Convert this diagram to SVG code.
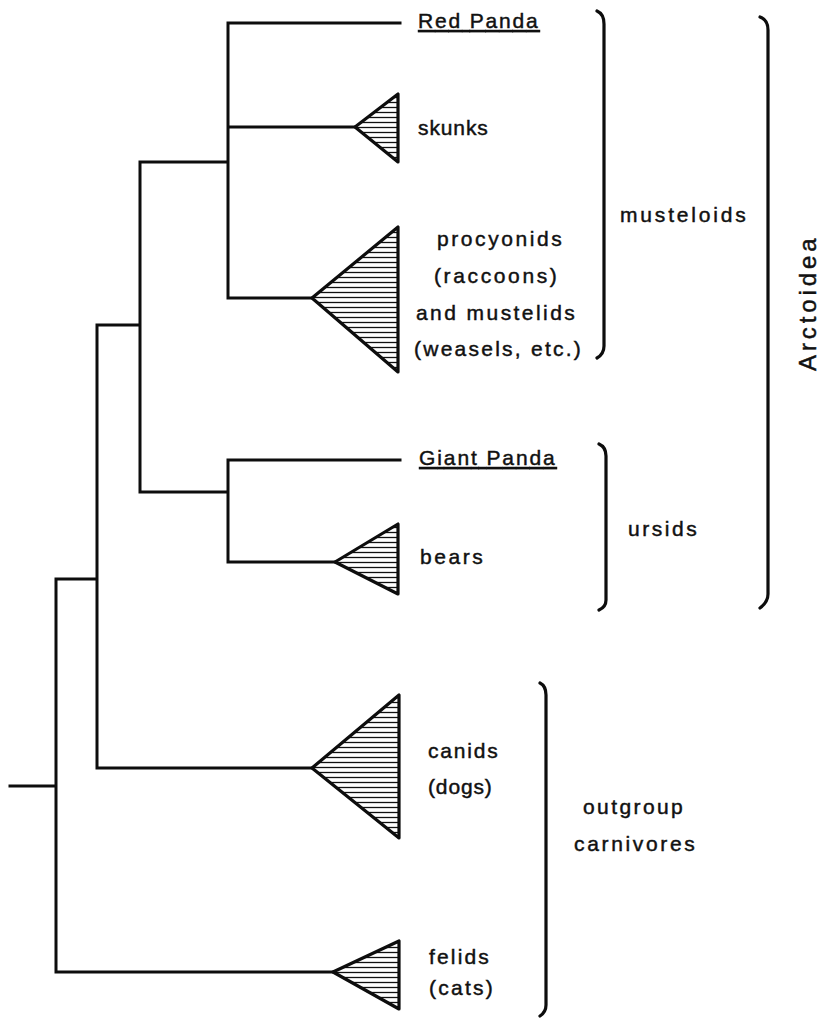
<svg xmlns="http://www.w3.org/2000/svg" width="821" height="1018" viewBox="0 0 821 1018">
<style>
.ln{fill:none;stroke:#0d0d0d;stroke-width:3;stroke-linecap:square}
.br{fill:none;stroke:#0d0d0d;stroke-width:3.2;stroke-linecap:round;stroke-linejoin:round}
.tri{fill:url(#hatch);stroke:#0d0d0d;stroke-width:3.2;stroke-linejoin:round}
.t{font-family:"Liberation Sans",Arial,sans-serif;font-size:21px;fill:#111;stroke:#111;stroke-width:0.45px;letter-spacing:2.2px}
.u{text-decoration:underline}
</style>
<defs>
<pattern id="hatch" patternUnits="userSpaceOnUse" width="10" height="5">
<rect width="10" height="5" fill="#fff"/>
<line x1="0" y1="2.5" x2="10" y2="2.5" stroke="#111" stroke-width="1.3"/>
</pattern>
</defs>
<rect width="821" height="1018" fill="#fff"/>
<g id="connectors">
<path class="ln" d="M10 786 H56 M56 579 V972 M56 579 H97 M56 972 H333 M97 325 V768 M97 325 H140 M97 768 H312 M140 162 V492 M140 162 H228 M140 492 H228 M228 23 V298 M228 23 H400 M228 127 H355 M228 298 H312 M228 460 V562 M228 460 H400 M228 562 H335"/>
</g>
<g id="red-panda"><text class="t u" x="418" y="28" textLength="122" lengthAdjust="spacing">Red Panda</text></g>
<g id="skunks">
<polygon class="tri" points="355,127 398,94 398,162"/>
<text class="t" x="418" y="135" textLength="72" lengthAdjust="spacing">skunks</text>
</g>
<g id="procyonids">
<polygon class="tri" points="312,298 398,227 398,372"/>
<text class="t" x="437" y="246" textLength="127" lengthAdjust="spacing">procyonids</text>
<text class="t" x="434" y="283" textLength="125" lengthAdjust="spacing">(raccoons)</text>
<text class="t" x="416" y="320" textLength="161" lengthAdjust="spacing">and mustelids</text>
<text class="t" x="414" y="356" textLength="169" lengthAdjust="spacing">(weasels, etc.)</text>
</g>
<g id="giant-panda"><text class="t u" x="419" y="465" textLength="138" lengthAdjust="spacing">Giant Panda</text></g>
<g id="bears">
<polygon class="tri" points="335,562 398,524 398,594"/>
<text class="t" x="420" y="564" textLength="65" lengthAdjust="spacing">bears</text>
</g>
<g id="canids">
<polygon class="tri" points="312,768 399,695 399,838"/>
<text class="t" x="428" y="758" textLength="72" lengthAdjust="spacing">canids</text>
<text class="t" x="428" y="794" textLength="66" lengthAdjust="spacing">(dogs)</text>
</g>
<g id="felids">
<polygon class="tri" points="333,972 399,941 399,1009"/>
<text class="t" x="429" y="964" textLength="62" lengthAdjust="spacing">felids</text>
<text class="t" x="429" y="995" textLength="66" lengthAdjust="spacing">(cats)</text>
</g>
<g id="musteloids">
<path class="br" d="M597 11 Q604 14 604 24 V346 Q604 354 597 358"/>
<text class="t" x="620" y="222" textLength="128" lengthAdjust="spacing">musteloids</text>
</g>
<g id="ursids">
<path class="br" d="M599 444 Q606 447 606 456 V600 Q606 607 599 610"/>
<text class="t" x="628" y="536" textLength="71" lengthAdjust="spacing">ursids</text>
</g>
<g id="arctoidea">
<path class="br" d="M760 17 Q768 20 768 30 V594 Q768 602 760 608"/>
<text class="t" x="0" y="0" style="font-size:24px;letter-spacing:1.5px" text-anchor="middle" textLength="134" lengthAdjust="spacing" transform="translate(816 304) rotate(-90)">Arctoidea</text>
</g>
<g id="outgroup">
<path class="br" d="M540 683 Q546 686 546 695 V1005 Q546 1012 540 1016"/>
<text class="t" x="583" y="814" textLength="102" lengthAdjust="spacing">outgroup</text>
<text class="t" x="574" y="851" textLength="123" lengthAdjust="spacing">carnivores</text>
</g>
</svg>
